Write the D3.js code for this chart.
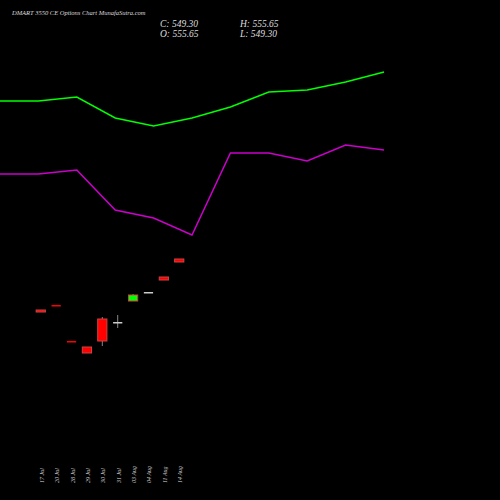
<!DOCTYPE html><html><head><script src="https://cdn.jsdelivr.net/npm/d3@7"></script>
<style>body{margin:0;background:#000}</style></head><body><svg width="500" height="500"></svg><script>
const dates=["17 Jul","20 Jul","28 Jul","29 Jul","30 Jul","31 Jul","03 Aug","04 Aug","11 Aug","14 Aug"];
const open=[190,195,159,153,181,178,199,208,223,241];
const close=[188,194,158,147,159,178,205,208,220,238];
const high=[190,195,159,153,183,185,206,208,223,241];
const low=[188,194,158,147,154,172,199,208,220,238];
const upper=[399,399,403,382,374,382,393,408,410,418,428];
const lower=[326,326,330,290,282,265,347,347,339,355,350];
const svg=d3.select("svg");
svg.append("rect").attr("width",500).attr("height",500).attr("fill","#000");
const y=d3.scaleLinear().domain([0,500]).range([500,0]);
const x=d3.scaleBand().domain(dates).range([30,190]).padding(0.4);
const xl=d3.scaleLinear().domain([0,10]).range([0,384]);
const line=d3.line().x((d,i)=>xl(i)).y(d=>y(d));
svg.append("path").attr("d",line(upper)).attr("stroke","#00ff00").attr("fill","none").attr("stroke-width",1.5);
svg.append("path").attr("d",line(lower)).attr("stroke","#cc00cc").attr("fill","none").attr("stroke-width",1.5);
dates.forEach((d,i)=>{
 const cx=x(d)+x.bandwidth()/2;
 const col=close[i]>open[i]?"#00ff00":close[i]<open[i]?"#ff0000":"#ccc";
 svg.append("line").attr("x1",cx).attr("x2",cx).attr("y1",y(high[i])).attr("y2",y(low[i])).attr("stroke","#888");
 const t=Math.min(y(open[i]),y(close[i])),h=Math.max(1.5,Math.abs(y(open[i])-y(close[i])));
 svg.append("rect").attr("x",x(d)).attr("width",x.bandwidth()).attr("y",t).attr("height",h).attr("fill",col).attr("stroke",h<2?"none":"#c44");
 svg.append("text").attr("transform",`translate(${cx+3},483) rotate(-90)`).attr("fill","#ccc").attr("font-size",6).attr("font-family","Liberation Serif").attr("font-style","italic").text(d);
});
const tf="Liberation Serif";
svg.append("text").attr("x",12).attr("y",15).attr("fill","#ddd").attr("font-size",6.5).attr("font-family",tf).attr("font-style","italic").text("DMART 3550  CE Options  Chart MunafaSutra.com");
[["C: 549.30",160,27],["H: 555.65",240,27],["O: 555.65",160,37],["L: 549.30",240,37]].forEach(a=>svg.append("text").attr("x",a[1]).attr("y",a[2]).attr("fill","#ddd").attr("font-size",9.5).attr("font-family",tf).attr("font-style","italic").text(a[0]));
</script></body></html>
